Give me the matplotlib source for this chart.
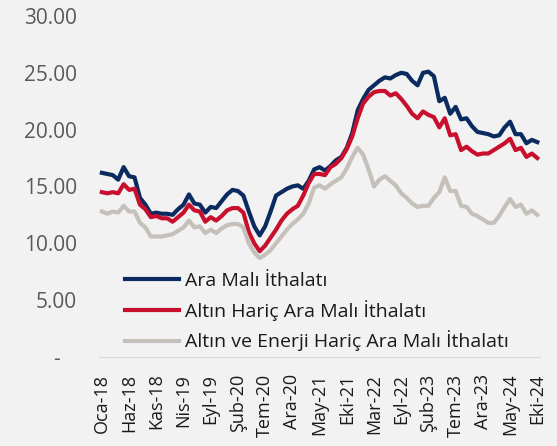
import matplotlib.pyplot as plt
import numpy as np

plt.rcParams['font.family'] = ['Open Sans', 'DejaVu Sans']

tick_labels = ['Oca-18', 'Haz-18', 'Kas-18', 'Nis-19', 'Eyl-19', 'Şub-20', 'Tem-20',
               'Ara-20', 'May-21', 'Eki-21', 'Mar-22', 'Eyl-22', 'Şub-23', 'Tem-23',
               'Ara-23', 'May-24', 'Eki-24']

ara_mali = [16.2, 16.1, 16.0, 15.6, 16.7, 15.9, 15.8, 14.0, 13.4, 12.6,
            12.7, 12.6, 12.6, 12.5, 13.0, 13.4, 14.3, 13.5, 13.4, 12.7,
            13.2, 13.1, 13.7, 14.3, 14.7, 14.6, 14.2, 12.8, 11.5, 10.7,
            11.5, 12.8, 14.2, 14.5, 14.8, 15.0, 15.1, 14.8, 15.5, 16.5,
            16.7, 16.4, 16.8, 17.3, 17.6, 18.4, 19.7, 21.7, 22.7, 23.5,
            23.9, 24.3, 24.6, 24.5, 24.8, 25.0, 24.9, 24.3, 23.9, 25.0,
            25.1, 24.7, 22.5, 22.8, 21.4, 22.0, 20.9, 21.0, 20.3, 19.8,
            19.7, 19.6, 19.4, 19.5, 20.2, 20.7, 19.6, 19.6, 18.8, 19.1,
            18.9]

altin_haric = [14.5, 14.4, 14.5, 14.4, 15.2, 14.7, 14.8, 13.4, 13.0, 12.3,
               12.4, 12.2, 12.2, 11.9, 12.3, 12.7, 13.4, 12.9, 12.8, 11.9,
               12.3, 12.0, 12.4, 12.9, 13.1, 13.1, 12.7, 11.0, 10.0, 9.3,
               9.8, 10.5, 11.2, 12.0, 12.6, 13.0, 13.3, 14.2, 15.3, 16.1,
               16.1, 16.0, 16.7, 17.0, 17.5, 18.3, 19.4, 21.0, 22.3, 22.9,
               23.3, 23.4, 23.4, 23.0, 23.2, 22.7, 22.1, 21.4, 21.0, 21.6,
               21.3, 21.1, 20.2, 21.0, 19.5, 19.6, 18.2, 18.5, 18.1, 17.8,
               17.9, 17.9, 18.2, 18.5, 18.8, 19.2, 18.2, 18.4, 17.6, 17.9,
               17.5]

altin_enerji_haric = [12.8, 12.6, 12.8, 12.7, 13.3, 12.8, 12.8, 11.8, 11.4, 10.6,
                      10.6, 10.6, 10.7, 10.8, 11.1, 11.4, 12.0, 11.4, 11.5, 10.9,
                      11.2, 10.9, 11.3, 11.6, 11.7, 11.7, 11.4, 10.0, 9.2, 8.7,
                      9.0, 9.4, 10.0, 10.6, 11.2, 11.7, 12.1, 12.6, 13.5, 14.9,
                      15.1, 14.8, 15.2, 15.5, 15.8, 16.6, 17.6, 18.4, 17.8, 16.5,
                      15.0, 15.6, 15.9, 15.5, 15.1, 14.4, 14.0, 13.5, 13.2, 13.3,
                      13.3, 14.0, 14.5, 15.8, 14.6, 14.6, 13.3, 13.2, 12.6, 12.4,
                      12.1, 11.8, 11.8, 12.4, 13.2, 13.9, 13.2, 13.4, 12.6, 12.9,
                      12.5]

series_names = ['Ara Malı İthalatı', 'Altın Hariç Ara Malı İthalatı',
                'Altın ve Enerji Hariç Ara Malı İthalatı']
colors = ['#0b2a5f', '#c8102e', '#c6c0ba']

bg = '#f2f2f2'
fig = plt.figure(figsize=(5.57, 4.46), dpi=100, facecolor=bg)
ax = fig.add_axes([0.178, 0.1996, 0.7915, 0.7646], facecolor=bg)

x = np.arange(len(ara_mali))
for vals, name, c in zip([ara_mali, altin_haric, altin_enerji_haric], series_names, colors):
    ax.plot(x, vals, color=c, lw=3, label=name, solid_joinstyle='round')

ax.set_xlim(-0.5, len(x) - 0.5)
ax.set_ylim(0, 30)
ax.set_yticks(np.arange(0, 31, 5))
ax.set_yticklabels(['-   '] + [f'{v:.2f}' for v in np.arange(5, 31, 5)])
ax.set_xticks(np.arange(0, len(x), 5))
ax.set_xticklabels(tick_labels, rotation=90)

ax.tick_params(axis='y', length=0, pad=16, labelsize=15, labelcolor='#595959')
ax.tick_params(axis='x', length=0, pad=12, labelsize=13, labelcolor='#1a1a1a')
for s in ['top', 'right', 'left']:
    ax.spines[s].set_visible(False)
ax.spines['bottom'].set_color('#d9d9d9')

leg = ax.legend(loc='lower left', bbox_to_anchor=(0.019, -0.035), frameon=False,
                fontsize=14, handlelength=2.8, handletextpad=0.28, labelspacing=0.5)
for t in leg.get_texts():
    t.set_color('#1a1a1a')

fig.savefig('out.png', dpi=100, facecolor=bg)
